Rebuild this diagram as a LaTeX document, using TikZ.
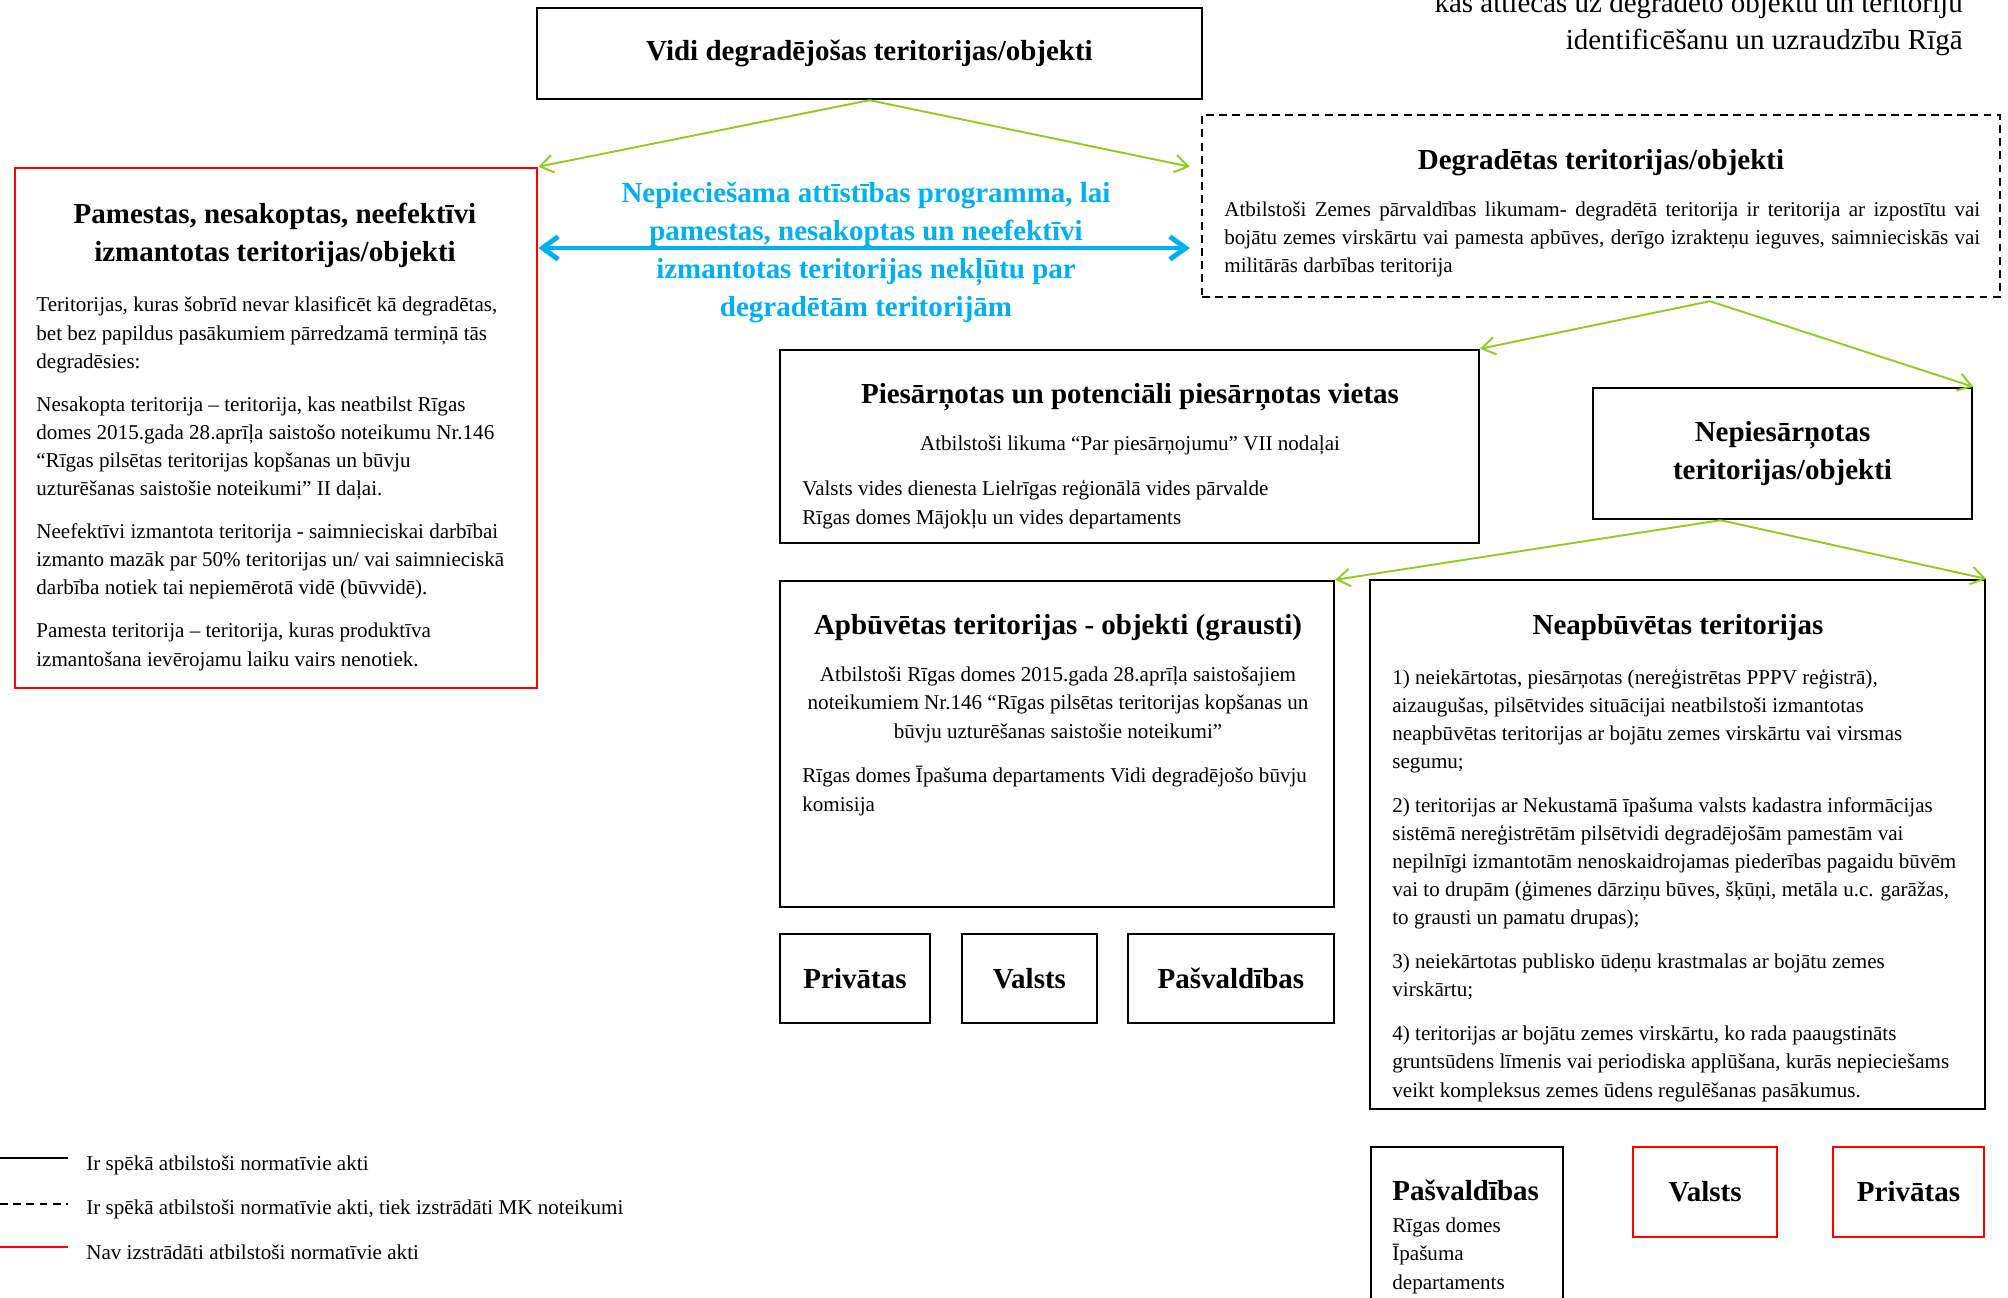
\documentclass[tikz,border=0pt]{standalone}
\usepackage{fontspec}
\setmainfont{Liberation Serif}
\usetikzlibrary{positioning,arrows.meta,calc}
\definecolor{arrgreen}{RGB}{146,204,30}
\definecolor{progblue}{RGB}{0,176,240}
\tikzset{
  box/.style={draw=black, line width=1.4pt, inner sep=0pt},
  redbox/.style={draw=red, line width=1.5pt, inner sep=0pt},
  dashbox/.style={draw=black, line width=1.4pt, dash pattern=on 4.5pt off 3pt, inner sep=0pt},
  head/.style={font=\fontsize{16.5}{21.6}\selectfont\bfseries, align=center, inner sep=0pt},
  body/.style={font=\fontsize{12}{16}\selectfont, align=left, inner sep=0pt, anchor=base west},
  branch/.style={draw=arrgreen, line width=1.1pt, -{Straight Barb[length=7.5pt,width=10pt]}},
  link/.style={draw=progblue, line width=2.8pt, line cap=round,
    arrows={Straight Barb[length=9pt,width=13pt]-Straight Barb[length=9pt,width=13pt]}}
}
\begin{document}
\begin{tikzpicture}[x=0.02cm, y=-0.02cm]
    \useasboundingbox (0,0) rectangle (2008,1298);
    \clip (0,0) rectangle (2008,1298);

    \node[anchor=base east, align=right, font=\fontsize{16.5}{21.6}\selectfont, inner sep=0pt] (ttl) at (1963,50)
      {kas attiecas uz degradēto objektu un teritoriju\\identificēšanu un uzraudzību Rīgā};

    \node[box, head, minimum width=13.3cm, minimum height=1.82cm] (vidi) at (869.5,53.5) {Vidi degradējošas teritorijas/objekti};

    \node[redbox, minimum width=10.44cm, minimum height=10.4cm] (pam) at (276,428) {};
    \node[head, anchor=base] (pamt) at (275,261) {Pamestas, nesakoptas, neefektīvi\\izmantotas teritorijas/objekti};
    \node[body] (pamb) at (36,666) {Teritorijas, kuras šobrīd nevar klasificēt kā degradētas,\\bet bez papildus pasākumiem pārredzamā termiņā tās\\degradēsies:\\[8.5pt]%
      Nesakopta teritorija – teritorija, kas neatbilst Rīgas\\domes 2015.gada 28.aprīļa saistošo noteikumu Nr.146\\“Rīgas pilsētas teritorijas kopšanas un būvju\\uzturēšanas saistošie noteikumi” II daļai.\\[8.5pt]%
      Neefektīvi izmantota teritorija - saimnieciskai darbībai\\izmanto mazāk par 50\% teritorijas un/ vai saimnieciskā\\darbība notiek tai nepiemērotā vidē (būvvidē).\\[8.5pt]%
      Pamesta teritorija – teritorija, kuras produktīva\\izmantošana ievērojamu laiku vairs nenotiek.};

    \node[dashbox, minimum width=15.96cm, minimum height=3.64cm] (degr) at (1601,206) {};
    \node[head, anchor=base] (degrt) at (1601,169) {Degradētas teritorijas/objekti};
    \node[body, text width=15.12cm, align=justify] (degrb) at (1224,216) {Atbilstoši Zemes pārvaldības likumam- degradētā teritorija ir teritorija ar izpostītu vai\linebreak
      bojātu zemes virskārtu vai pamesta apbūves, derīgo izrakteņu ieguves, saimnieciskās vai\linebreak
      militārās darbības teritorija};

    \node[head, anchor=base, text=progblue] (prog) at (866,316) {Nepieciešama attīstības programma, lai\\pamestas, nesakoptas un neefektīvi\\izmantotas teritorijas nekļūtu par\\degradētām teritorijām};
    \coordinate (mid) at (866,248);

    \node[box, minimum width=13.98cm, minimum height=3.86cm] (pies) at (1129.5,446.5) {};
    \node[head, anchor=base] (piest) at (1130,403) {Piesārņotas un potenciāli piesārņotas vietas};
    \node[body, anchor=base, align=center] (piesl) at (1130,450) {Atbilstoši likuma “Par piesārņojumu” VII nodaļai};
    \node[body] (piesb) at (802,524) {Valsts vides dienesta Lielrīgas reģionālā vides pārvalde\\Rīgas domes Mājokļu un vides departaments};

    \node[box, head, minimum width=7.58cm, minimum height=2.62cm] (nepies) at (1782.5,453.5) {Nepiesārņotas\\teritorijas/objekti};

    \node[box, minimum width=11.08cm, minimum height=6.52cm] (apb) at (1057,744) {};
    \node[head, anchor=base] (apbt) at (1058,634) {Apbūvētas teritorijas - objekti (grausti)};
    \node[body, anchor=base, align=center] (apbl) at (1058,738) {Atbilstoši Rīgas domes 2015.gada 28.aprīļa saistošajiem\\noteikumiem Nr.146 “Rīgas pilsētas teritorijas kopšanas un\\būvju uzturēšanas saistošie noteikumi”};
    \node[body] (apbb) at (802,811) {Rīgas domes Īpašuma departaments Vidi degradējošo būvju\\komisija};

    \node[box, head, minimum width=3cm, minimum height=1.78cm] (priv) at (855,978.5) {Privātas};
    \node[box, head, minimum width=2.7cm, minimum height=1.78cm, right=0.59cm of priv] (valsts) {Valsts};
    \node[box, head, minimum width=4.12cm, minimum height=1.78cm, right=0.57cm of valsts] (pasv) {Pašvaldības};

    \node[box, minimum width=12.3cm, minimum height=10.58cm] (neapb) at (1677.5,844.5) {};
    \node[head, anchor=base] (neapbt) at (1678,634) {Neapbūvētas teritorijas};
    \node[body] (neapbb) at (1392,1097) {1) neiekārtotas, piesārņotas (nereģistrētas PPPV reģistrā),\\aizaugušas, pilsētvides situācijai neatbilstoši izmantotas\\neapbūvētas teritorijas ar bojātu zemes virskārtu vai virsmas\\segumu;\\[9pt]%
      2) teritorijas ar Nekustamā īpašuma valsts kadastra informācijas\\sistēmā nereģistrētām pilsētvidi degradējošām pamestām vai\\nepilnīgi izmantotām nenoskaidrojamas piederības pagaidu būvēm\\vai to drupām (ģimenes dārziņu būves, šķūņi, metāla u.c. garāžas,\\to grausti un pamatu drupas);\\[9pt]%
      3) neiekārtotas publisko ūdeņu krastmalas ar bojātu zemes\\virskārtu;\\[9pt]%
      4) teritorijas ar bojātu zemes virskārtu, ko rada paaugstināts\\gruntsūdens līmenis vai periodiska applūšana, kurās nepieciešams\\veikt kompleksus zemes ūdens regulēšanas pasākumus.};

    \node[box, minimum width=3.84cm, minimum height=3.4cm, anchor=north west] (pasv2) at (1370,1146) {};
    \node[head, anchor=base west] (pasv2t) at (1392,1200) {Pašvaldības};
    \node[body] (pasv2b) at (1392,1289) {Rīgas domes\\Īpašuma\\departaments};
    \node[redbox, head, minimum width=2.88cm, minimum height=1.8cm] (valsts2) at (1705,1192) {Valsts};
    \node[redbox, head, minimum width=3.02cm, minimum height=1.8cm] (priv2) at (1908.5,1192) {Privātas};

    \coordinate (dsplit) at ($(degr.south)+(109,3)$);
    \coordinate (nsplit) at ($(nepies.south)+(-62,0)$);

    \draw[branch] (vidi.south) -- (pam.north east);
    \draw[branch] (vidi.south) -- ($(degr.west |- pam.north)+(-11,0)$);
    \draw[branch] (dsplit) -- (pies.north east);
    \draw[branch] (dsplit) -- (nepies.north east);
    \draw[branch] (nsplit) -- (apb.north east);
    \draw[branch] (nsplit) -- (neapb.north east);
    \draw[link, shorten >=0.22cm] (pam.east |- mid) -- (degr.west |- mid);

    % legend
    \node[body] (leg1) at (86,1170) {Ir spēkā atbilstoši normatīvie akti};
    \node[body] (leg2) at (86,1214) {Ir spēkā atbilstoši normatīvie akti, tiek izstrādāti MK noteikumi};
    \node[body] (leg3) at (86,1259) {Nav izstrādāti atbilstoši normatīvie akti};
    \draw[line width=1.4pt] (0,1158) -- (68,1158);
    \draw[line width=1.4pt, dash pattern=on 4.5pt off 3pt] (0,1204) -- (68,1204);
    \draw[red, line width=1.5pt] (0,1247) -- (68,1247);
\end{tikzpicture}
\end{document}
